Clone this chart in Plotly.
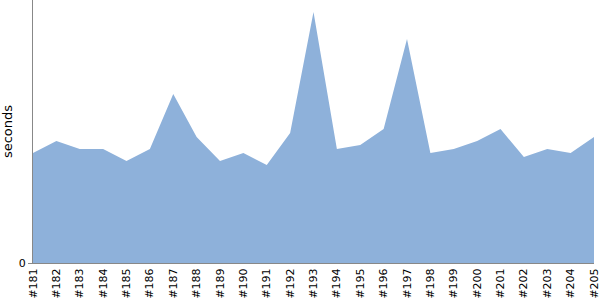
import plotly.graph_objects as go

builds = ["#%d" % n for n in range(181, 206)]
seconds = [11.0, 12.2, 11.4, 11.4, 10.2, 11.4, 16.9, 12.6, 10.2, 11.0, 9.8, 13.0,
           25.1, 11.4, 11.8, 13.4, 22.4, 11.0, 11.4, 12.2, 13.4, 10.6, 11.4, 11.0, 12.6]

fig = go.Figure(go.Scatter(
    x=builds, y=seconds, mode="lines", fill="tozeroy",
    line=dict(width=0, color="#8eb1da"), fillcolor="#8eb1da", hoverinfo="x+y"))

fig.update_layout(
    width=600, height=300, margin=dict(l=33, r=6, t=0, b=37),
    paper_bgcolor="white", plot_bgcolor="white", showlegend=False,
    font=dict(family="DejaVu Sans", size=11, color="black"),
    xaxis=dict(type="category", range=[0, 24], showgrid=False, zeroline=False,
               showline=True, linecolor="#888888", linewidth=1, ticks="",
               tickangle=-90, tickfont=dict(size=11)),
    yaxis=dict(range=[0, 26.3], showgrid=False, zeroline=False, showline=True,
               linecolor="#888888", linewidth=1, tickvals=[0], ticktext=["0"],
               ticks="outside", ticklen=4, tickcolor="#888888",
               tickfont=dict(size=11),
               title=dict(text="seconds", font=dict(size=13), standoff=6)),
)
fig.write_html("out.html")
